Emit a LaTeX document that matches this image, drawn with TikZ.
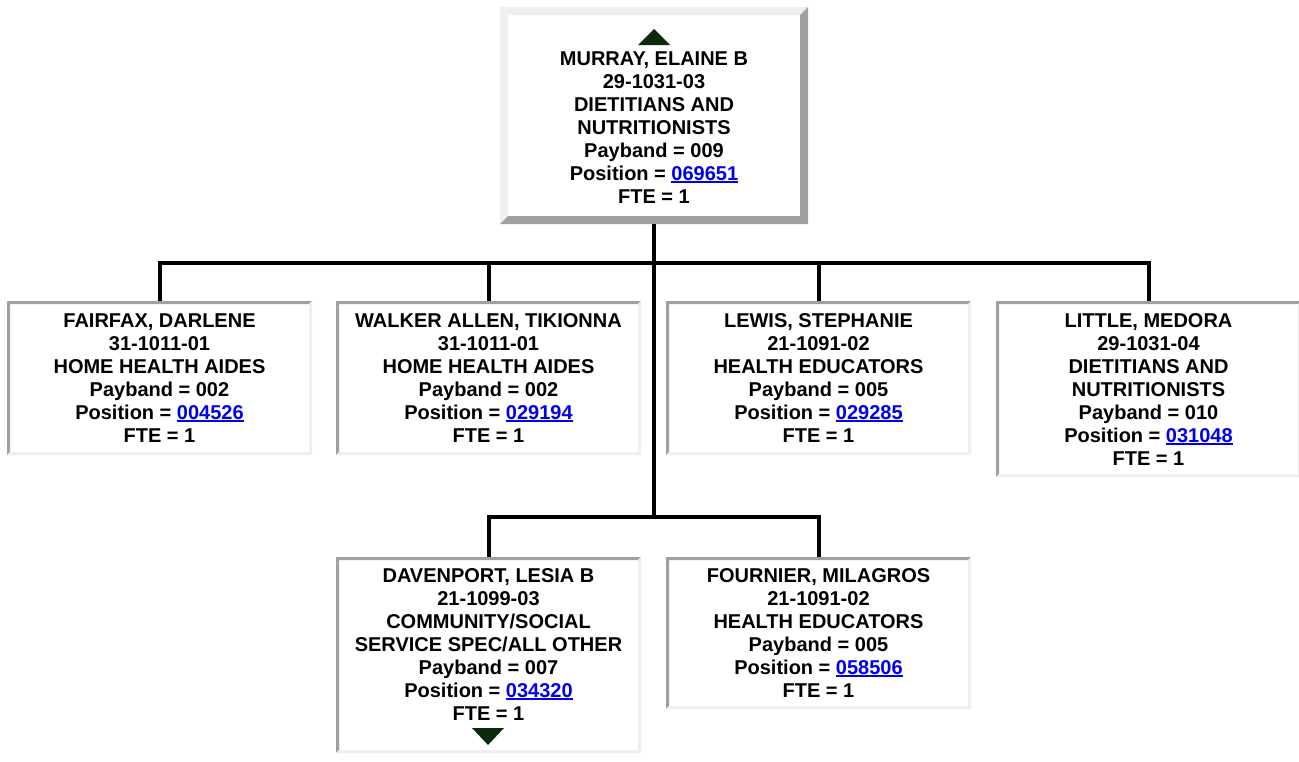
\documentclass[tikz,border=0pt]{standalone}
\usepackage{fontspec}
\setmainfont{Liberation Sans}
\usetikzlibrary{fit}
\definecolor{bdark}{HTML}{A0A0A0}
\definecolor{blight}{HTML}{EFEFEF}
\definecolor{linkblue}{HTML}{0000EE}
\definecolor{trigreen}{HTML}{0B2A0B}
\newcommand\lnk[1]{{\color{linkblue}\setbox0\hbox{#1}\rlap{\rule[-3.3pt]{\wd0}{2pt}}\box0}}
% #1 name, #2 x1, #3 y1, #4 x2, #5 y2, #6 border, #7 top-left colour, #8 bottom-right colour
\newcommand\bevelbox[8]{%
  \fill[white] (#2,#3) rectangle (#4,#5);
  \fill[#7] (#2,#3) -- (#4,#3) -- ({#4-#6},{#3+#6}) -- ({#2+#6},{#3+#6}) -- ({#2+#6},{#5-#6}) -- (#2,#5) -- cycle;
  \fill[#8] (#4,#3) -- (#4,#5) -- (#2,#5) -- ({#2+#6},{#5-#6}) -- ({#4-#6},{#5-#6}) -- ({#4-#6},{#3+#6}) -- cycle;
  \node[fit={(#2,#3) (#4,#5)}, inner sep=0pt, draw=none] (#1) {};
}
\newcommand\ptext[3]{%
  \node[persontext] (#1) at (#2) {\begin{tabular}[t]{@{}c@{}}#3\end{tabular}};
}
\begin{document}
\begin{tikzpicture}[x=1pt,y=-1pt,
  persontext/.style={anchor=base, inner sep=0pt, font=\bfseries\fontsize{20}{23}\selectfont},
  conn/.style={draw=black, line width=4pt, line join=miter, line cap=butt},
  tri/.style={fill=trigreen}]
\useasboundingbox (0,0) rectangle (1299,761);
\fill[white] (0,0) rectangle (1299,761);

% boxes
\bevelbox{murray}{500}{7}{808}{224}{8}{blight}{bdark}
\bevelbox{fairfax}{7}{301}{312}{455}{3}{bdark}{blight}
\bevelbox{walker}{336}{301}{641}{455}{3}{bdark}{blight}
\bevelbox{lewis}{666}{301}{971}{455}{3}{bdark}{blight}
\bevelbox{little}{996}{301}{1301}{477}{3}{bdark}{blight}
\bevelbox{davenport}{336}{557}{641}{753}{3}{bdark}{blight}
\bevelbox{fournier}{666}{557}{971}{709}{3}{bdark}{blight}

% triangles
\fill[tri] (638,45) -- (670,45) -- (654,29) -- cycle;
\fill[tri] (472,728) -- (504,728) -- (488,745) -- cycle;

% texts
\ptext{murrayt}{654,65}{MURRAY, ELAINE B\\29-1031-03\\DIETITIANS AND\\NUTRITIONISTS\\Payband = 009\\Position = \lnk{069651}\\FTE = 1}
\ptext{fairfaxt}{159.5,327}{FAIRFAX, DARLENE\\31-1011-01\\HOME HEALTH AIDES\\Payband = 002\\Position = \lnk{004526}\\FTE = 1}
\ptext{walkert}{488.5,327}{WALKER ALLEN, TIKIONNA\\31-1011-01\\HOME HEALTH AIDES\\Payband = 002\\Position = \lnk{029194}\\FTE = 1}
\ptext{lewist}{818.5,327}{LEWIS, STEPHANIE\\21-1091-02\\HEALTH EDUCATORS\\Payband = 005\\Position = \lnk{029285}\\FTE = 1}
\ptext{littlet}{1148.5,327}{LITTLE, MEDORA\\29-1031-04\\DIETITIANS AND\\NUTRITIONISTS\\Payband = 010\\Position = \lnk{031048}\\FTE = 1}
\ptext{davenportt}{488.5,582}{DAVENPORT, LESIA B\\21-1099-03\\COMMUNITY/SOCIAL\\SERVICE SPEC/ALL OTHER\\Payband = 007\\Position = \lnk{034320}\\FTE = 1}
\ptext{fourniert}{818.5,582}{FOURNIER, MILAGROS\\21-1091-02\\HEALTH EDUCATORS\\Payband = 005\\Position = \lnk{058506}\\FTE = 1}

% connectors
\coordinate (j1) at (654,263);
\coordinate (j2) at (654,517);
\draw[conn] (murray.south) -- (j2);
\draw[conn] (fairfax.north) |- (j1);
\draw[conn] (walker.north) |- (j1);
\draw[conn] (lewis.north) |- (j1);
\draw[conn] (little.north) |- (j1);
\draw[conn] (davenport.north) |- (j2);
\draw[conn] (fournier.north) |- (j2);
\end{tikzpicture}
\end{document}
